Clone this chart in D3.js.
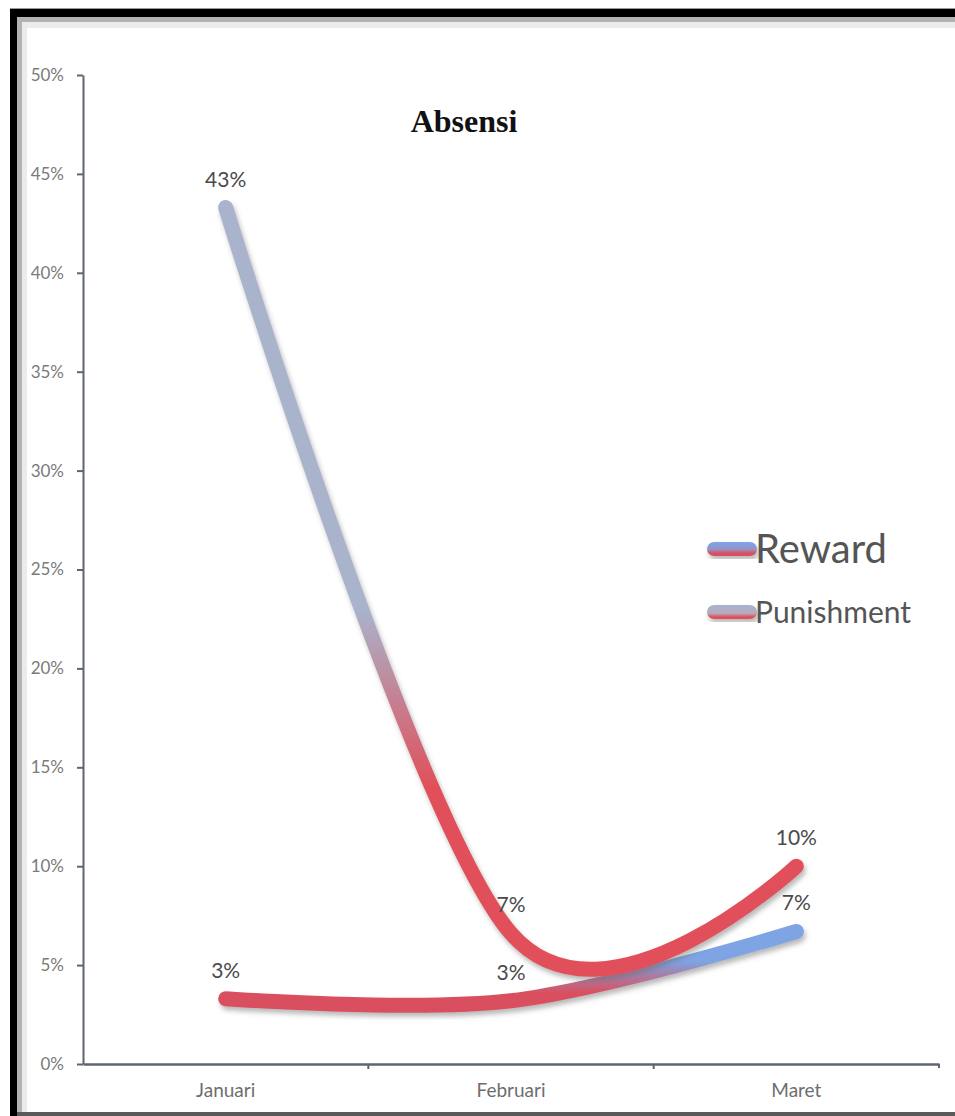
<!DOCTYPE html>
<html>
<head>
<meta charset="utf-8">
<script src="https://cdn.jsdelivr.net/npm/d3@7"></script>
<style>
  body { margin: 0; background: #fff; }
  svg { display: block; }
</style>
</head>
<body>
<script>
// Monthly attendance (absensi) rates
const months = ["Januari", "Februari", "Maret"];
const reward = [0.033, 0.032, 0.067];
const punishment = [0.433, 0.066, 0.100];
const yTickValues = [0, 0.05, 0.10, 0.15, 0.20, 0.25, 0.30, 0.35, 0.40, 0.45, 0.50];
const seriesNames = ["Reward", "Punishment"];
const chartTitle = "Absensi";

const W = 955, H = 1116;
const svg = d3.select("body").append("svg").attr("width", W).attr("height", H);
const defs = svg.append("defs");

// ---- frame ----
svg.append("rect").attr("x", 10).attr("y", 8).attr("width", W - 10).attr("height", 1).attr("fill", "#9a9a9a");
svg.append("rect").attr("x", 10).attr("y", 9).attr("width", W - 10).attr("height", 8).attr("fill", "#000");
svg.append("rect").attr("x", 10).attr("y", 9).attr("width", 7).attr("height", H - 9).attr("fill", "#000");
svg.append("rect").attr("x", 17).attr("y", 17).attr("width", W - 17).attr("height", 5).attr("fill", "#b3b3b3");
svg.append("rect").attr("x", 17).attr("y", 17).attr("width", 5).attr("height", H - 17).attr("fill", "#b3b3b3");
svg.append("rect").attr("x", 22).attr("y", 22).attr("width", W - 22).attr("height", 6).attr("fill", "#ebebeb");
svg.append("rect").attr("x", 22).attr("y", 22).attr("width", 5).attr("height", H - 22).attr("fill", "#ebebeb");
svg.append("rect").attr("x", 17).attr("y", 1112).attr("width", W - 17).attr("height", 4).attr("fill", "#5a5a5a");

// ---- scales ----
const x = d3.scaleBand().domain(months).range([83, 939]);
const y = d3.scaleLinear().domain([0, 0.5]).range([1064, 75]);
const cx = m => x(m) + x.bandwidth() / 2;

const axisColor = "#5f6473";
const labelFont = "Lato, 'Open Sans', sans-serif";

// ---- y axis ----
const yAxis = svg.append("g").attr("transform", "translate(83,0)")
  .call(d3.axisLeft(y).tickValues(yTickValues).tickFormat(d3.format(".0%"))
    .tickSize(6).tickSizeOuter(0).tickPadding(13));
yAxis.select(".domain").attr("stroke", axisColor).attr("stroke-width", 2);
yAxis.selectAll(".tick line").attr("stroke", axisColor).attr("stroke-width", 2);
yAxis.selectAll(".tick text").attr("fill", "#7a7a7a").style("font", `17px ${labelFont}`);

// ---- x axis ----
const xAxis = svg.append("g").attr("transform", "translate(0,1064)")
  .call(d3.axisBottom(x).tickSize(0).tickPadding(20));
xAxis.select(".domain").attr("stroke", axisColor).attr("stroke-width", 2.5);
xAxis.selectAll(".tick text").attr("fill", "#6e6e6e").style("font", `19px ${labelFont}`);
// boundary ticks between categories
const bounds = months.slice(1).map(m => x(m));
xAxis.selectAll(".bound").data(bounds).enter().append("line")
  .attr("x1", d => d).attr("x2", d => d).attr("y1", 0).attr("y2", 5)
  .attr("stroke", axisColor).attr("stroke-width", 2);
xAxis.append("line").attr("x1", x.range()[1]).attr("x2", x.range()[1])
  .attr("y1", 0).attr("y2", 4).attr("stroke", axisColor).attr("stroke-width", 2);

// ---- gradients & shadow ----
const gradR = defs.append("linearGradient").attr("id", "gReward")
  .attr("gradientUnits", "userSpaceOnUse")
  .attr("x1", 0).attr("x2", 0).attr("y1", y(0.052)).attr("y2", y(0.036));
gradR.append("stop").attr("offset", 0).attr("stop-color", "#7ea4e4");
gradR.append("stop").attr("offset", 1).attr("stop-color", "#d9505f");

const gradP = defs.append("linearGradient").attr("id", "gPunish")
  .attr("gradientUnits", "userSpaceOnUse")
  .attr("x1", 0).attr("x2", 0).attr("y1", y(0.23)).attr("y2", y(0.14));
gradP.append("stop").attr("offset", 0).attr("stop-color", "#a9b3cc");
gradP.append("stop").attr("offset", 1).attr("stop-color", "#e0505a");

const legR = defs.append("linearGradient").attr("id", "lReward")
  .attr("x1", 0).attr("x2", 0).attr("y1", 0).attr("y2", 1);
legR.append("stop").attr("offset", 0.1).attr("stop-color", "#7ea4e4");
legR.append("stop").attr("offset", 0.55).attr("stop-color", "#9a8fc0");
legR.append("stop").attr("offset", 0.8).attr("stop-color", "#d9505f");

const legP = defs.append("linearGradient").attr("id", "lPunish")
  .attr("x1", 0).attr("x2", 0).attr("y1", 0).attr("y2", 1);
legP.append("stop").attr("offset", 0.1).attr("stop-color", "#a9b3cc");
legP.append("stop").attr("offset", 0.6).attr("stop-color", "#b7a9bd");
legP.append("stop").attr("offset", 0.85).attr("stop-color", "#e0505a");

const shadow = defs.append("filter").attr("id", "shadow")
  .attr("x", "-10%").attr("y", "-10%").attr("width", "130%").attr("height", "130%");
shadow.append("feDropShadow").attr("dx", 2).attr("dy", 4).attr("stdDeviation", 2.5)
  .attr("flood-color", "#666").attr("flood-opacity", 0.45);

// ---- lines ----
const line = d3.line()
  .x((d, i) => cx(months[i]))
  .y(d => y(d))
  .curve(d3.curveCardinal.tension(0));

svg.append("path").datum(reward).attr("d", line)
  .attr("fill", "none").attr("stroke", "url(#gReward)").attr("stroke-width", 15)
  .attr("stroke-linecap", "round").attr("stroke-linejoin", "round")
  .attr("filter", "url(#shadow)");

svg.append("path").datum(punishment).attr("d", line)
  .attr("fill", "none").attr("stroke", "url(#gPunish)").attr("stroke-width", 15)
  .attr("stroke-linecap", "round").attr("stroke-linejoin", "round")
  .attr("filter", "url(#shadow)");

// ---- data labels ----
const pct = d3.format(".0%");
[reward, punishment].forEach(series => {
  svg.append("g").selectAll("text").data(series).enter().append("text")
    .attr("x", (d, i) => cx(months[i]))
    .attr("y", d => y(d) - 21)
    .attr("text-anchor", "middle")
    .attr("fill", "#4a4a4a")
    .style("font", `21px ${labelFont}`)
    .text(d => pct(d));
});

// ---- title ----
svg.append("text").attr("x", 464).attr("y", 132).attr("text-anchor", "middle")
  .style("font", "bold 32px 'Liberation Serif', 'Times New Roman', serif")
  .attr("fill", "#111").text(chartTitle);

// ---- legend ----
const legend = [
  { name: seriesNames[0], fill: "url(#lReward)", y: 549, size: 40 },
  { name: seriesNames[1], fill: "url(#lPunish)", y: 612, size: 30 }
];
const lg = svg.append("g").selectAll("g").data(legend).enter().append("g");
lg.append("rect").attr("x", 707).attr("y", d => d.y - 7).attr("width", 50).attr("height", 14)
  .attr("rx", 7).attr("fill", d => d.fill).attr("filter", "url(#shadow)");
lg.append("text").attr("x", 755).attr("y", d => d.y + d.size * 0.36)
  .attr("fill", "#555").style("font-family", labelFont).style("font-size", d => d.size + "px")
  .text(d => d.name);
</script>
</body>
</html>
